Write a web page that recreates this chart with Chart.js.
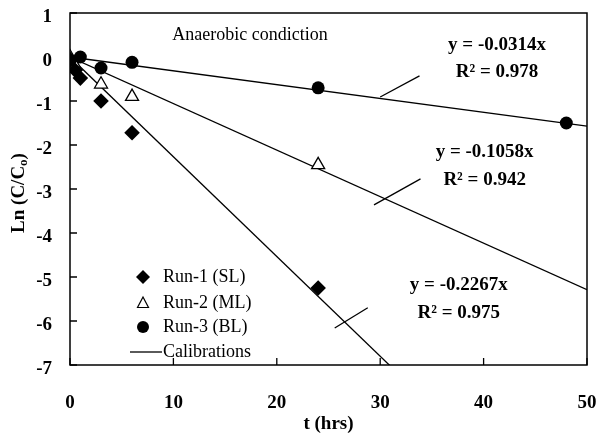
<!DOCTYPE html>
<html><head><meta charset="utf-8">
<script src="https://cdn.jsdelivr.net/npm/chart.js@4/dist/chart.umd.min.js"></script>
<style>html,body{margin:0;padding:0;background:#fff}#wrap{width:599px;height:435px;position:relative}</style>
</head><body><div id="wrap"><canvas id="c" width="599" height="435"></canvas></div>
<script>
// ---- data ----
const run1T = [0, 0.5, 1, 3, 6, 24];
const run1Y = [-0.05, -0.3, -0.48, -1.0, -1.72, -5.25];
const run2T = [0, 0.5, 3, 6, 24];
const run2Y = [0, -0.2, -0.62, -0.9, -2.45];
const run3T = [0, 1, 3, 6, 24, 48];
const run3Y = [-0.08, 0, -0.25, -0.12, -0.7, -1.5];
const fitT = [0, 50];
const fit1Y = [0, -11.335];   // y = -0.2267x
const fit2Y = [0, -5.29];     // y = -0.1058x
const fit3Y = [0, -1.57];     // y = -0.0314x
const seriesNames = ['Run-1 (SL)', 'Run-2 (ML)', 'Run-3 (BL)', 'Calibrations'];
const eqLines = [['y = -0.0314x', 'R² = 0.978'], ['y = -0.1058x', 'R² = 0.942'], ['y = -0.2267x', 'R² = 0.975']];
const noteText = 'Anaerobic condiction';
const xTitle = 't (hrs)';
const yTitleParts = ['Ln (C/C', 'o', ')'];
const leader1T = [30.0, 33.8], leader1Y = [-0.91, -0.43];
const leader2T = [29.4, 33.9], leader2Y = [-3.36, -2.77];
const leader3T = [25.6, 28.8], leader3Y = [-6.16, -5.70];

const pts = (xs, ys) => xs.map((x, i) => ({x, y: ys[i]}));
const SERIF = '"Liberation Serif", "Times New Roman", serif';

// label anchors (data coords) for equation text
const eqPos = [[41.3, 0.27, -0.34], [40.1, -2.16, -2.80], [37.6, -5.18, -5.82]];

const overlay = {
  id: 'overlay',
  afterDraw(chart) {
    const {ctx, chartArea: a, scales: {x, y}} = chart;
    ctx.save();
    // frame
    ctx.strokeStyle = '#000';
    ctx.lineWidth = 1.5;
    ctx.strokeRect(a.left, a.top, a.right - a.left, a.bottom - a.top);
    // inward tick marks
    ctx.lineWidth = 1.3;
    ctx.beginPath();
    y.ticks.forEach(t => { const p = y.getPixelForValue(t.value); ctx.moveTo(a.left, p); ctx.lineTo(a.left + 7, p); });
    x.ticks.forEach(t => { const p = x.getPixelForValue(t.value); ctx.moveTo(p, a.bottom); ctx.lineTo(p, a.bottom - 7); });
    ctx.stroke();

    ctx.fillStyle = '#000';
    ctx.textBaseline = 'middle';
    // note
    ctx.font = '18px ' + SERIF;
    ctx.textAlign = 'left';
    ctx.fillText(noteText, x.getPixelForValue(9.9), y.getPixelForValue(0.5));
    // equations
    ctx.font = 'bold 19px ' + SERIF;
    ctx.textAlign = 'center';
    eqLines.forEach((l, i) => {
      const p = eqPos[i];
      ctx.fillText(l[0], x.getPixelForValue(p[0]), y.getPixelForValue(p[1]));
      ctx.fillText(l[1], x.getPixelForValue(p[0]), y.getPixelForValue(p[2]));
    });

    // legend
    const mx = a.left + 73, tx = a.left + 93;
    const rows = [a.top + 264, a.top + 290, a.top + 314, a.top + 339];
    ctx.font = '18px ' + SERIF;
    ctx.textAlign = 'left';
    rows.forEach((ry, i) => ctx.fillText(seriesNames[i], tx, ry));
    // diamond
    ctx.beginPath();
    ctx.moveTo(mx, rows[0] - 7); ctx.lineTo(mx + 7, rows[0]); ctx.lineTo(mx, rows[0] + 7); ctx.lineTo(mx - 7, rows[0]); ctx.closePath();
    ctx.fill();
    // triangle
    ctx.beginPath();
    ctx.moveTo(mx, rows[1] - 6); ctx.lineTo(mx + 5.5, rows[1] + 4.5); ctx.lineTo(mx - 5.5, rows[1] + 4.5); ctx.closePath();
    ctx.fillStyle = '#fff'; ctx.fill(); ctx.lineWidth = 1.2; ctx.stroke();
    ctx.fillStyle = '#000';
    // circle
    ctx.beginPath(); ctx.arc(mx, rows[2], 6, 0, Math.PI * 2); ctx.fill();
    // line
    ctx.beginPath(); ctx.lineWidth = 1.3; ctx.moveTo(a.left + 60, rows[3]); ctx.lineTo(a.left + 92, rows[3]); ctx.stroke();

    // y axis title with subscript
    ctx.translate(19, (a.top + a.bottom) / 2 + 4);
    ctx.rotate(-Math.PI / 2);
    const bigF = 'bold 19px ' + SERIF, smallF = 'bold 13px ' + SERIF;
    ctx.font = bigF; const w0 = ctx.measureText(yTitleParts[0]).width; const w2 = ctx.measureText(yTitleParts[2]).width;
    ctx.font = smallF; const w1 = ctx.measureText(yTitleParts[1]).width;
    let sx = -(w0 + w1 + w2) / 2;
    ctx.textAlign = 'left';
    ctx.font = bigF; ctx.fillText(yTitleParts[0], sx, 0); sx += w0;
    ctx.font = smallF; ctx.fillText(yTitleParts[1], sx, 5); sx += w1;
    ctx.font = bigF; ctx.fillText(yTitleParts[2], sx, 0);
    ctx.restore();
  }
};

const lineDs = (data, order) => ({data, showLine: true, borderColor: '#000', borderWidth: 1.3, pointRadius: 0, fill: false, order});
const noPad = s => { s.paddingLeft = 0; s.paddingRight = 0; s.paddingTop = 0; s.paddingBottom = 0; };

new Chart(document.getElementById('c'), {
  type: 'scatter',
  data: {
    datasets: [
      {label: seriesNames[0], data: pts(run1T, run1Y), pointStyle: 'rectRot', pointRadius: 7.8, backgroundColor: '#000', borderColor: '#000', borderWidth: 0, order: 1},
      {label: seriesNames[1], data: pts(run2T, run2Y), pointStyle: 'triangle', pointRadius: 7.5, backgroundColor: '#fff', borderColor: '#000', borderWidth: 1.3, order: 2},
      {label: seriesNames[2], data: pts(run3T, run3Y), pointStyle: 'circle', pointRadius: 6.5, backgroundColor: '#000', borderColor: '#000', borderWidth: 0, order: 0},
      Object.assign(lineDs(pts(fitT, fit1Y), 5), {label: 'fit1'}),
      Object.assign(lineDs(pts(fitT, fit2Y), 5), {label: 'fit2'}),
      Object.assign(lineDs(pts(fitT, fit3Y), 5), {label: 'fit3'}),
      lineDs(pts(leader1T, leader1Y), 6),
      lineDs(pts(leader2T, leader2Y), 6),
      lineDs(pts(leader3T, leader3Y), 6)
    ]
  },
  options: {
    responsive: false,
    animation: false,
    devicePixelRatio: 1,
    layout: {padding: {top: 13, right: 12, left: 0, bottom: 0}},
    plugins: {legend: {display: false}, tooltip: {enabled: false}},
    scales: {
      x: {
        type: 'linear', min: 0, max: 50,
        ticks: {stepSize: 10, color: '#000', padding: 27, font: {family: SERIF, size: 19, weight: 'bold'}},
        grid: {display: false, drawTicks: false},
        border: {display: false},
        title: {display: true, text: xTitle, color: '#000', padding: {top: 0, bottom: 0}, font: {family: SERIF, size: 19, weight: 'bold'}},
        afterFit(s) { s.height = 70; noPad(s); }
      },
      y: {
        type: 'linear', min: -7, max: 1,
        ticks: {stepSize: 1, color: '#000', padding: 18, labelOffset: 4, font: {family: SERIF, size: 19, weight: 'bold'}},
        grid: {display: false, drawTicks: false},
        border: {display: false},
        afterFit(s) { s.width = 70; noPad(s); }
      }
    }
  },
  plugins: [overlay]
});
</script></body></html>
